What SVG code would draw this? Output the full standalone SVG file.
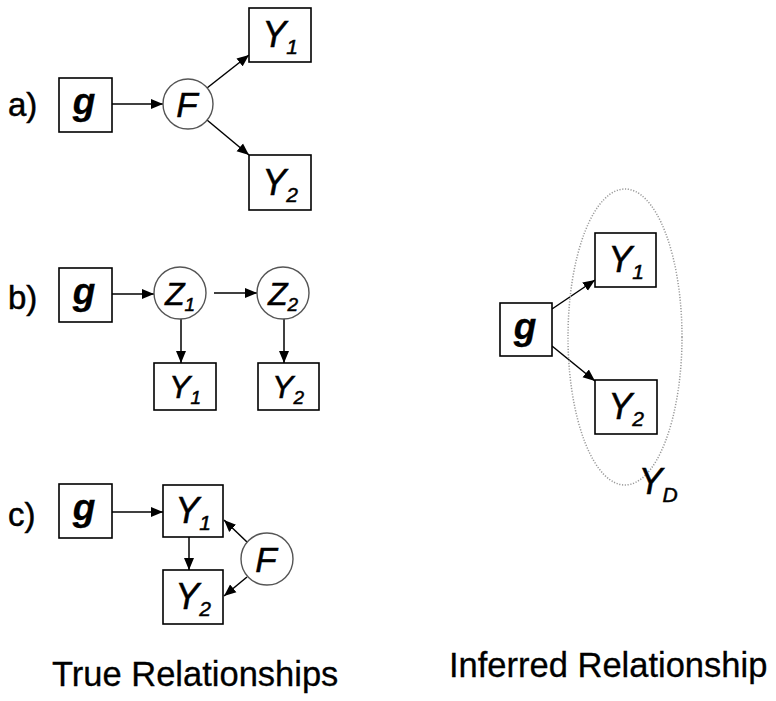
<svg xmlns="http://www.w3.org/2000/svg" width="776" height="701" viewBox="0 0 776 701">
<defs>
<marker id="ah" markerUnits="userSpaceOnUse" markerWidth="14" markerHeight="11" refX="12" refY="5.5" orient="auto">
<path d="M0,0.5 L12,5.5 L0,10.5 Z" fill="#000"/>
</marker>
<style>
.box{fill:#fff;stroke:#000;stroke-width:1.6}
.circ{fill:#fff;stroke:#555;stroke-width:1.4}
.edge{stroke:#000;stroke-width:1.5;fill:none;marker-end:url(#ah)}
text{font-family:"Liberation Sans",Arial,sans-serif;fill:#000;stroke:#000;stroke-width:0.5}
.lbl{font-size:33px}
.g{font-size:37px;font-weight:bold;font-style:italic;text-anchor:middle;stroke-width:0.3}
.v{font-size:36px;font-style:italic;text-anchor:middle}
.vs{font-size:32px;font-style:italic;text-anchor:middle}
.f{font-size:35px;font-style:italic;text-anchor:middle}
.sub{font-size:21px}
.subs{font-size:19px}
.cap{font-size:34.5px;stroke-width:0.3}
</style>
</defs>
<rect width="776" height="701" fill="#fff"/>
<g id="connectors">
<line class="edge" x1="112" y1="104" x2="163" y2="104"/>
<line class="edge" x1="207" y1="88" x2="249" y2="55"/>
<line class="edge" x1="207" y1="120" x2="249" y2="155"/>
<line class="edge" x1="112" y1="294" x2="154" y2="294"/>
<line class="edge" x1="214" y1="293" x2="257" y2="293"/>
<line class="edge" x1="181" y1="319" x2="181" y2="363"/>
<line class="edge" x1="284" y1="319" x2="284" y2="363"/>
<line class="edge" x1="112" y1="512" x2="163" y2="512"/>
<line class="edge" x1="189" y1="537" x2="189" y2="570"/>
<line class="edge" x1="247" y1="542" x2="224" y2="520"/>
<line class="edge" x1="247" y1="577" x2="224" y2="596"/>
<line class="edge" x1="552" y1="309" x2="595" y2="280"/>
<line class="edge" x1="552" y1="346" x2="595" y2="381"/>
</g>
<text class="lbl" x="8" y="116">a)</text>
<text class="lbl" x="8" y="309">b)</text>
<text class="lbl" x="8" y="526">c)</text>
<g id="a_g"><rect class="box" x="59" y="78" width="53" height="54"/><text class="g" x="84" y="114">g</text></g>
<g id="a_F"><circle class="circ" cx="188" cy="104" r="25"/><text class="f" x="187" y="117">F</text></g>
<g id="a_Y1"><rect class="box" x="249" y="8" width="62" height="54"/><text class="v" x="280" y="47">Y<tspan class="sub" dy="7">1</tspan></text></g>
<g id="a_Y2"><rect class="box" x="249" y="155" width="62" height="55"/><text class="v" x="280" y="195">Y<tspan class="sub" dy="7">2</tspan></text></g>
<g id="b_g"><rect class="box" x="59" y="268" width="53" height="54"/><text class="g" x="84" y="304">g</text></g>
<g id="b_Z1"><circle class="circ" cx="180" cy="293" r="26"/><text class="vs" x="180" y="305">Z<tspan class="subs" dy="6">1</tspan></text></g>
<g id="b_Z2"><circle class="circ" cx="283" cy="293" r="26"/><text class="vs" x="283" y="305">Z<tspan class="subs" dy="6">2</tspan></text></g>
<g id="b_Y1"><rect class="box" x="154" y="363" width="62" height="47"/><text class="vs" x="185" y="398">Y<tspan class="subs" dy="6">1</tspan></text></g>
<g id="b_Y2"><rect class="box" x="258" y="363" width="61" height="47"/><text class="vs" x="288" y="398">Y<tspan class="subs" dy="6">2</tspan></text></g>
<g id="c_g"><rect class="box" x="59" y="484" width="53" height="54"/><text class="g" x="84" y="520">g</text></g>
<g id="c_Y1"><rect class="box" x="163" y="485" width="60" height="52"/><text class="v" x="193" y="523">Y<tspan class="sub" dy="7">1</tspan></text></g>
<g id="c_Y2"><rect class="box" x="163" y="570" width="60" height="54"/><text class="v" x="193" y="609">Y<tspan class="sub" dy="7">2</tspan></text></g>
<g id="c_F"><circle class="circ" cx="267" cy="559" r="26"/><text class="f" x="266" y="572">F</text></g>
<g id="r_YD"><ellipse cx="625" cy="337" rx="57" ry="148" fill="none" stroke="#999" stroke-width="1.5" stroke-dasharray="1.2 1.6"/><text class="v" x="658" y="494">Y<tspan class="sub" dy="8">D</tspan></text></g>
<g id="r_g"><rect class="box" x="500" y="303" width="52" height="53"/><text class="g" x="525" y="339">g</text></g>
<g id="r_Y1"><rect class="box" x="595" y="233" width="61" height="54"/><text class="v" x="626" y="272">Y<tspan class="sub" dy="7">1</tspan></text></g>
<g id="r_Y2"><rect class="box" x="595" y="380" width="62" height="54"/><text class="v" x="626" y="419">Y<tspan class="sub" dy="7">2</tspan></text></g>
<text class="cap" x="52" y="686">True Relationships</text>
<text class="cap" x="449" y="677">Inferred Relationship</text>
</svg>
